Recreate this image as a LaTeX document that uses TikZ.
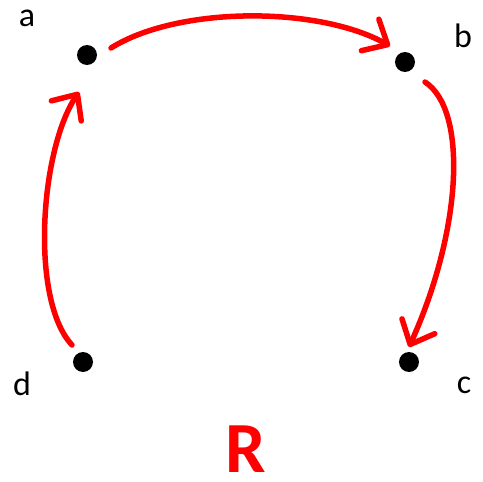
\documentclass[tikz,border=0pt]{standalone}
\usepackage{fontspec}
\setmainfont{Carlito}
\usetikzlibrary{arrows.meta}
\begin{document}
\begin{tikzpicture}[x=1pt,y=-1pt,
  pt/.style={circle,fill=black,inner sep=0pt,minimum size=20pt},
  lbl/.style={font=\fontsize{34}{36}\selectfont,inner sep=0pt},
  arc/.style={red,line width=5.5pt,line cap=round,-{Straight Barb[length=20pt,width=36pt,line cap=round,line join=round]}}]
\useasboundingbox (0,0) rectangle (483,482);
\node[pt] (a) at (87,55) {};
\node[pt] (b) at (405,62) {};
\node[pt] (c) at (409,362) {};
\node[pt] (d) at (83,362) {};
\node[lbl] (la) at (27,18) {a};
\node[lbl] (lb) at (463,36) {b};
\node[lbl] (lc) at (464,385) {c};
\node[lbl] (ld) at (22,384) {d};
\node[text=red,font=\fontsize{72}{76}\selectfont\bfseries,inner sep=0pt,anchor=base] (R) at (246,472) {R};
\coordinate (a1) at (111,48);
\coordinate (b0) at (390,46);
\coordinate (b1) at (425,82);
\coordinate (c0) at (409,347);
\coordinate (d1) at (72,345);
\coordinate (a0) at (79,92);
\draw[arc] (a1) .. controls (178,6) and (318,6) .. (b0);
\draw[arc] (b1) .. controls (468,110) and (462,230) .. (c0);
\draw[arc] (d1) .. controls (30,300) and (40,150) .. (a0);
\end{tikzpicture}
\end{document}
